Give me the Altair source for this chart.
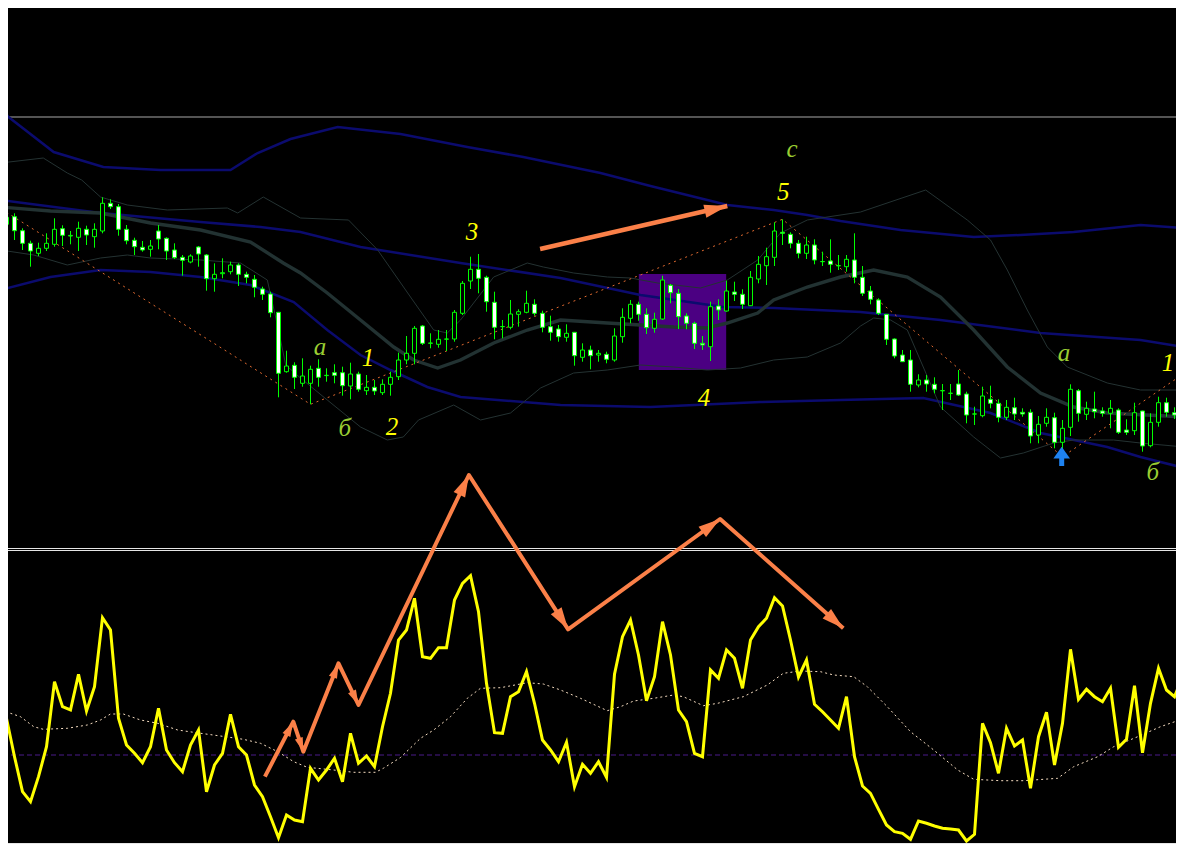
import math
import numpy as np
import pandas as pd
import altair as alt

W, H = 1168, 836

# ---------------- price candles (index k = bar number) ----------------
OPEN = [375.7, 383.3, 369.3, 356.7, 346.7, 351.7, 355.7, 371.3, 364.0, 362.7,
        370.7, 363.3, 369.0, 396.7, 393.3, 370.7, 359.7, 352.7, 350.7, 369.0,
        361.7, 350.0, 342.7, 338.0, 353.0, 345.0, 321.3, 326.3, 328.3, 335.0,
        325.7, 320.7, 311.0, 306.0, 287.7, 228.3, 234.7, 216.7, 216.7, 231.7,
        224.4, 227.3, 227.3, 214.0, 226.0, 209.3, 212.7, 207.3, 215.7, 223.3,
        240.0, 246.7, 274.0, 256.7, 255.7, 260.8, 261.0, 286.7, 319.0, 330.7,
        322.7, 297.7, 273.3, 272.7, 285.7, 287.7, 295.7, 286.7, 273.3, 271.0,
        262.7, 267.7, 242.7, 250.0, 245.0, 245.7, 240.0, 263.3, 281.7, 295.7,
        285.7, 271.7, 281.0, 314.7, 306.7, 284.0, 276.7, 256.7, 253.3, 294.0,
        289.0, 308.0, 305.7, 294.3, 321.0, 334.3, 342.7, 367.7, 365.7, 356.7,
        346.7, 355.0, 338.3, 339.0, 334.2, 333.3, 340.0, 322.7, 309.0, 300.0,
        285.7, 261.0, 245.0, 240.0, 215.0, 220.0, 215.7, 209.2, 206.6, 216.0,
        206.0, 185.9, 184.3, 200.7, 196.7, 182.7, 192.3, 187.7, 187.7, 165.0,
        176.7, 182.3, 157.7, 172.7, 209.3, 185.7, 191.0, 189.0, 186.7, 190.0,
        170.0, 169.3, 189.0, 154.3, 177.7, 197.3, 187.3, 185.0]
HIGH = [387.7, 386.7, 371.7, 359.3, 357.3, 366.7, 381.7, 374.7, 369.0, 378.3,
        374.3, 376.7, 402.7, 400.7, 396.0, 375.0, 362.3, 359.0, 360.0, 375.0,
        362.7, 356.7, 345.0, 345.7, 354.0, 346.0, 336.7, 341.7, 338.3, 336.7,
        328.3, 325.0, 313.3, 308.3, 287.7, 249.3, 237.7, 241.7, 234.3, 240.7,
        231.7, 235.7, 233.3, 237.3, 228.3, 225.0, 220.0, 220.7, 228.3, 247.3,
        264.0, 274.0, 275.0, 266.7, 270.0, 270.0, 290.0, 319.0, 343.3, 346.0,
        324.3, 308.3, 280.0, 300.0, 290.7, 309.3, 300.7, 289.3, 284.3, 275.0,
        275.7, 267.7, 256.7, 254.3, 250.0, 248.3, 271.7, 291.7, 300.0, 298.3,
        291.7, 287.3, 324.3, 316.0, 311.0, 286.7, 278.3, 264.0, 298.3, 300.7,
        319.3, 318.3, 310.7, 329.0, 344.0, 352.3, 377.7, 380.7, 367.7, 360.0,
        363.3, 360.7, 348.3, 360.7, 345.0, 345.0, 366.7, 334.0, 314.0, 301.7,
        286.0, 261.7, 250.0, 250.0, 225.7, 225.0, 222.7, 216.0, 216.0, 230.0,
        208.3, 193.3, 213.3, 214.3, 200.7, 200.0, 202.3, 191.7, 190.7, 184.0,
        191.7, 187.3, 180.0, 215.7, 211.0, 198.3, 208.3, 192.7, 200.0, 191.7,
        180.7, 197.3, 189.3, 186.7, 203.3, 202.3, 192.7, 197.0]
LOW = [371.7, 360.0, 350.0, 333.3, 344.0, 349.0, 353.3, 354.0, 355.7, 349.0,
       355.0, 352.3, 366.7, 391.0, 364.3, 355.7, 345.0, 348.3, 343.3, 350.7,
       340.0, 341.0, 324.3, 336.7, 333.3, 309.3, 308.3, 321.7, 325.7, 314.0,
       316.7, 302.7, 300.0, 282.7, 202.7, 227.3, 211.0, 213.3, 195.7, 213.3,
       218.3, 216.7, 204.3, 200.7, 208.3, 205.0, 205.0, 205.0, 204.3, 220.0,
       235.7, 235.7, 255.0, 251.7, 252.3, 249.0, 258.3, 285.0, 311.0, 306.7,
       288.3, 260.7, 261.7, 270.7, 273.3, 286.7, 284.3, 267.7, 259.3, 258.3,
       258.3, 234.3, 238.3, 230.7, 238.3, 236.7, 238.3, 257.3, 276.7, 279.3,
       266.0, 267.3, 280.0, 296.7, 271.0, 270.7, 251.0, 250.0, 239.0, 280.0,
       288.3, 299.0, 291.0, 294.0, 316.7, 315.0, 334.0, 355.0, 351.7, 341.7,
       341.0, 335.7, 334.0, 327.3, 330.0, 328.3, 316.7, 304.0, 295.7, 285.0,
       255.0, 241.7, 238.3, 208.3, 212.7, 208.3, 206.7, 190.0, 200.0, 204.0,
       176.7, 175.0, 182.7, 191.7, 177.7, 180.0, 180.0, 183.3, 156.7, 156.7,
       173.3, 151.7, 143.3, 164.0, 178.3, 180.0, 181.7, 183.3, 171.7, 166.0,
       165.0, 165.0, 148.3, 152.7, 173.3, 183.3, 181.0, 182.0]
CLOSE = [382.7, 369.3, 356.7, 349.0, 351.7, 356.7, 370.7, 364.7, 364.6, 371.7,
         365.0, 370.7, 396.7, 393.3, 370.7, 359.3, 353.3, 350.0, 354.0, 361.0,
         349.0, 342.3, 339.7, 344.0, 346.0, 321.3, 325.7, 327.3, 335.0, 325.7,
         322.7, 312.7, 305.7, 287.3, 226.7, 234.0, 222.7, 224.0, 230.7, 222.7,
         224.7, 224.7, 214.3, 226.0, 210.7, 212.7, 209.0, 215.7, 222.7, 240.0,
         246.7, 271.7, 256.7, 257.0, 260.7, 261.0, 287.7, 316.7, 330.7, 321.7,
         298.3, 272.7, 273.5, 286.0, 288.3, 296.7, 286.7, 272.7, 267.7, 263.3,
         266.7, 244.3, 250.0, 244.3, 246.7, 240.7, 264.0, 282.7, 295.7, 285.7,
         272.3, 280.7, 320.0, 307.3, 283.3, 276.7, 256.7, 255.0, 293.3, 290.0,
         309.0, 305.7, 295.7, 322.7, 335.7, 343.3, 369.0, 366.7, 356.7, 346.7,
         355.0, 340.0, 338.5, 335.7, 334.4, 340.7, 322.7, 306.7, 300.7, 286.7,
         260.7, 244.0, 238.3, 215.7, 220.0, 216.0, 210.7, 209.4, 206.8, 205.0,
         185.0, 186.1, 204.0, 196.7, 182.7, 192.7, 186.0, 186.0, 164.0, 175.7,
         182.7, 157.7, 171.7, 210.7, 186.7, 191.7, 188.3, 186.7, 191.7, 167.7,
         167.7, 187.3, 154.0, 177.7, 197.3, 187.7, 185.0, 193.3]

# ---------------- price-panel indicator lines (knots: bar index, price) ----------------
ENV_UP_K = [-0.75, 0.25, 5.9, 12.1, 19.25, 28.0, 31.4, 35.5, 41.4, 49.25, 57.6, 64.6, 74.25,
            80.5, 87.6, 90.1, 95.9, 100.1, 104.25, 111.75, 120.9, 126.75, 133.4, 141.75, 147.25]
ENV_UP_P = [492, 483, 448, 433, 430, 430, 447, 461, 473, 466, 453, 443, 427,
            414, 400, 395, 390, 385, 379, 370, 363, 365, 368, 375, 372]
ENV_MID_K = [-0.75, 11.75, 24.25, 31.75, 36.75, 44.25, 56.75, 69.25, 79.25, 89.6, 95.9,
             106.75, 116.75, 129.25, 141.75, 147.25]
ENV_MID_P = [400, 387, 378, 373, 368, 353, 337, 322, 305, 293, 292, 288, 280, 267, 260, 253]
ENV_LO_K = [-0.75, 5.5, 11.75, 18, 24.25, 30.5, 35.9, 40.1, 44.25, 48, 52.6, 56.75, 69.25,
            80.5, 94.25, 104.25, 114.6, 123, 129.25, 137.6, 141.75, 147.25]
ENV_LO_P = [310, 323, 330, 328, 323, 315, 298, 270, 245, 230, 213, 203, 195,
            193, 198, 200, 202, 187, 167, 153, 143, 132]
MA_K = [-0.75, 5.5, 11.75, 18, 24.25, 30.5, 34.6, 36.75, 40.1, 44.25, 48.4, 50.9, 53.9, 56.75,
        60.9, 65.1, 69.25, 75.1, 79.25, 83.4, 87.6, 90.1, 93.9, 95.9, 100.1, 104.25, 108.4,
        112.6, 116.75, 120.9, 125.1, 129.25, 133.4, 137.6, 147.25]
MA_P = [393, 389, 387, 377, 370, 358, 337, 327, 307, 280, 253, 240, 232, 240,
        257, 270, 280, 277, 275, 273, 272, 277, 287, 300, 313, 323, 330,
        323, 303, 270, 233, 207, 193, 187, 183]
BB_UP_K = [-0.75, 4.6, 7.6, 9.4, 11.75, 15.1, 20.1, 27.6, 28.9, 32.1, 36.75, 42.75, 46.4, 50.5,
           53.4, 55.1, 56.75, 60.9, 65.1, 67.1, 70.9, 75.1, 78, 81.4, 86.75, 90.1, 93.9, 96.75,
           100.1, 106.75, 114.9, 120.1, 123, 125.1, 127.6, 130.1, 132.6, 137.6, 141.75, 147.25]
BB_UP_P = [437, 442, 427, 420, 403, 395, 390, 392, 387, 403, 382, 380, 350, 303,
           270, 267, 280, 323, 337, 333, 327, 323, 322, 317, 312, 320, 340, 367,
           380, 388, 410, 380, 360, 330, 290, 253, 233, 217, 210, 210]
BB_LO_K = [-0.75, 3.4, 7.6, 11.75, 15.1, 18, 24.25, 29.25, 32.6, 34, 34.9, 36.75, 40.1, 44.25,
           47.6, 49.6, 51.5, 55.9, 59.25, 63, 66.75, 70.9, 75.1, 79.25, 83.4, 87.6, 91.75,
           95.9, 100.1, 104.25, 106.75, 108.4, 110.5, 112.6, 116.75, 120.9, 124.25, 127.1,
           130.9, 133.4, 138.4, 141.75, 147.25]
BB_LO_P = [350, 345, 335, 342, 345, 342, 340, 337, 320, 270, 235, 222, 200, 173,
           160, 163, 180, 195, 180, 187, 212, 227, 230, 235, 233, 230, 232,
           240, 243, 257, 274, 282, 280, 270, 193, 163, 142, 147,
           157, 160, 160, 157, 153]
ZZ_K = [0, 38, 97, 132, 150]
ZZ_P = [387.7, 195.7, 380.7, 143.3, 242]
LEVEL_P = [483]

BOX_K = [79.04, 89.96]
BOX_P = [326, 230]

# ---------------- oscillator panel ----------------
OSC = [36.7, -1.7, -36.7, -46.7, -21.7, 8.3, 73.3, 48.3, 45, 80.7,
       44, 68.3, 137.3, 125, 36.7, 10, 1.7, -7.7, 8.3, 46.7,
       5, -7.7, -16.7, 10, 25, -36.7, -10, 1.7, 40.7, 8.3,
       0, -30, -41.7, -61.7, -82.7, -60, -65, -66.7, -13.3, -25,
       -15, -3.3, -26.7, 21.7, -8.3, -1, -11.7, 28.3, 61.7, 115,
       125, 156.7, 98.3, 96.7, 107.3, 107.3, 155, 171.7, 179.3, 143.3,
       71.7, 22.3, 21.7, 58.3, 63.3, 83.3, 51.7, 15, 5, -6.7,
       12.7, -31.7, -9.3, -18.3, -6.7, -22.3, 80.7, 118.3, 135, 100,
       54.3, 78.3, 133.3, 100, 45, 33.3, 1.7, -1.7, 85, 76.7,
       105, 96.7, 66.7, 115, 128.3, 136.7, 157.3, 149, 115, 78,
       95, 50.7, 43.3, 35, 26.7, 58.3, -1.7, -31, -38.3, -54.3,
       -70, -76.7, -78.3, -84.3, -66, -68.3, -71, -73.3, -74, -75,
       -86, -79.3, 31.7, 12.3, -18.3, 26.7, 9, 15, -33.3, 18.3,
       42.7, -10, 31.7, 105.7, 55.7, 65.7, 58.3, 53.3, 66.7, 7.7,
       15.7, 69.3, 2.3, 51.7, 86.7, 65, 58.3, 78.3]
SIG_K = [-0.75, 0.5, 1.75, 3.4, 4.6, 7.6, 10.1, 11.75, 13, 14.6, 16.75, 18.9, 21.4, 24.25,
         26.75, 29.6, 31.75, 33.9, 35.9, 37.6, 40.9, 43.4, 46.1, 47.1, 49.25, 51.75, 53.4,
         55.5, 57.6, 59.25, 61.75, 65.1, 67.1, 69.25, 71.75, 75.1, 76.75, 78.4, 80.9, 83.4,
         84.6, 87.1, 88.9, 92.1, 95.1, 97.1, 99.25, 101.75, 103.4, 105.9, 107.6, 110.1, 113,
         115.9, 118.9, 120.9, 124.25, 127.1, 131.4, 133.4, 136.4, 138.4, 141.4, 144.25, 147.25]
SIG_V = [43.3, 41.7, 38.3, 28.3, 25.7, 26.7, 30, 35, 41, 41, 35, 31.7, 25, 21.7,
         19, 15.7, 11.7, 3.3, -6.7, -12.3, -15, -17.3, -17.3, -13.3, -2.5, 16.7, 25,
         38.3, 56.7, 66.7, 67.3, 72.3, 71, 65, 56.7, 44.3, 48.3, 54, 56.7, 60,
         58.3, 49.3, 51.7, 58.3, 70, 81.7, 84, 83.3, 80, 78.3, 68.3, 48.3, 23.3,
         5, -15, -24.3, -25.7, -25.7, -23.3, -11.7, -1.7, 8.3, 18.3, 28.3, 36.7]
OSC_LEVEL = [0]

# ---------------- annotations ----------------
WAVE_K = [32.3, 35.85, 37.1, 41.5, 44.0, 57.8, 70.2, 89.2, 104.6]
WAVE_P = [-176.7, -121.7, -151.7, -63.3, -105, 125, -29.3, 81, -28.3]
WAVE_HEAD = [0, 225, 200, 225, 225, 484, 484, 484, 484]
TREND_K = [66.7, 90.1]
TREND_P = [351, 394]
LBL_T = ["a", "б", "1", "2", "3", "4", "5", "c", "a", "1", "б"]
LBL_K = [39.2, 42.3, 45.2, 48.2, 58.2, 87.2, 97.1, 98.2, 132.2, 145.2, 143.3]
LBL_P = [253, 172, 242, 173, 368, 202, 408, 451, 247, 237, 128]
BUY_K = [131.9]
BUY_TIP_P = [153.3]
BUY_SHAFT_P = [142, 134]

# ---------------- scales ----------------
XD = [0.1875, (W + 1.5) / 8]
PD = [592 - H, 592]
OD = [747 - H, 747]
XS = alt.Scale(domain=XD, nice=False, zero=False)
PS = alt.Scale(domain=PD, nice=False, zero=False)
OS = alt.Scale(domain=OD, nice=False, zero=False)
PX_K = W / (XD[1] - XD[0])
PX_P = H / (PD[1] - PD[0])


def X(f):
    return alt.X(f, scale=XS, axis=None)


def YP(f):
    return alt.Y(f, scale=PS, axis=None)


def YO(f):
    return alt.Y(f, scale=OS, axis=None)


def line(ks, vs, color, width, dash=None, yf=YP):
    d = pd.DataFrame({"k": ks, "v": vs})
    kw = dict(color=color, strokeWidth=width, clip=True)
    if dash:
        kw["strokeDash"] = dash
    return alt.Chart(d).mark_line(**kw).encode(x=X("k:Q"), y=yf("v:Q"))


layers = []

# purple rectangle
box = pd.DataFrame({"k1": [BOX_K[0]], "k2": [BOX_K[1]], "p1": [BOX_P[0]], "p2": [BOX_P[1]]})
layers.append(alt.Chart(box).mark_rect(color="#4b0082").encode(
    x=X("k1:Q"), x2="k2:Q", y=YP("p1:Q"), y2="p2:Q"))

# horizontal level line
layers.append(alt.Chart(pd.DataFrame({"p": LEVEL_P})).mark_rule(color="#a8a8a8", strokeWidth=1).encode(
    y=YP("p:Q")))

# envelopes, bands, moving average, zigzag
layers.append(line(ENV_UP_K, ENV_UP_P, "#0b0b6e", 2.5))
layers.append(line(ENV_MID_K, ENV_MID_P, "#0b0b6e", 2.5))
layers.append(line(ENV_LO_K, ENV_LO_P, "#0b0b6e", 2.5))
layers.append(line(BB_UP_K, BB_UP_P, "#243232", 1))
layers.append(line(BB_LO_K, BB_LO_P, "#243232", 1))
layers.append(line(MA_K, MA_P, "#223232", 3.4))
layers.append(line(ZZ_K, ZZ_P, "#e06a30", 1, dash=[2, 4]))

# candles
cd = pd.DataFrame({"k": np.arange(len(OPEN)), "open": OPEN, "high": HIGH, "low": LOW, "close": CLOSE})
cd["bx1"] = cd["k"] - 0.25
cd["bx2"] = cd["k"] + 0.25
cd["fillc"] = np.where(cd["close"] >= cd["open"], "#000000", "#ffffff")
layers.append(alt.Chart(cd).mark_rule(color="#00ff00", strokeWidth=1, clip=True).encode(
    x=X("k:Q"), y=YP("low:Q"), y2="high:Q"))
layers.append(alt.Chart(cd).mark_rect(stroke="#00ff00", strokeWidth=1, clip=True).encode(
    x=X("bx1:Q"), x2="bx2:Q", y=YP("open:Q"), y2="close:Q",
    fill=alt.Fill("fillc:N", scale=None)))

# oscillator panel
layers.append(alt.Chart(pd.DataFrame({"v": OSC_LEVEL})).mark_rule(
    color="#4b1a8a", strokeWidth=1, strokeDash=[5, 3]).encode(y=YO("v:Q")))
layers.append(line(SIG_K, SIG_V, "#f5dcc0", 1, dash=[2, 3], yf=YO))
layers.append(line(list(range(len(OSC))), OSC, "#ffff00", 3, yf=YO))

# frame: panel separator and bottom time-axis line
one = pd.DataFrame({"z": [0]})
for yy in (540.5, 542.5, H - 0.5):
    layers.append(alt.Chart(one).mark_rule(color="#e6e6e6", strokeWidth=1).encode(
        x=alt.value(0), x2=alt.value(W), y=alt.value(yy)))

# orange hand-drawn arrows
HEAD = "M0,0L-0.58,2L0.58,2Z"


def heads(ks, ps, sizes):
    rows = []
    for i in range(1, len(ks)):
        if sizes[i] <= 0:
            continue
        dx = (ks[i] - ks[i - 1]) * PX_K
        dy = -(ps[i] - ps[i - 1]) * PX_P
        ang = (math.degrees(math.atan2(dx, -dy)) + 360) % 360
        rows.append({"k": ks[i], "p": ps[i], "ang": ang, "sz": sizes[i]})
    return pd.DataFrame(rows)


CORAL = "#fb8048"
wave = pd.DataFrame({"k": WAVE_K, "p": WAVE_P, "i": range(len(WAVE_K))})
layers.append(alt.Chart(wave).mark_line(color=CORAL, strokeWidth=4, strokeJoin="round", clip=True).encode(
    x=X("k:Q"), y=YP("p:Q"), order="i:Q"))
layers.append(alt.Chart(heads(WAVE_K, WAVE_P, WAVE_HEAD)).mark_point(
    shape=HEAD, filled=True, opacity=1, color=CORAL, strokeWidth=0).encode(
    x=X("k:Q"), y=YP("p:Q"), angle=alt.Angle("ang:Q", scale=None), size=alt.Size("sz:Q", scale=None)))
trend = pd.DataFrame({"k": TREND_K, "p": TREND_P})
layers.append(alt.Chart(trend).mark_line(color=CORAL, strokeWidth=4.5).encode(x=X("k:Q"), y=YP("p:Q")))
layers.append(alt.Chart(heads(TREND_K, TREND_P, [0, 529])).mark_point(
    shape=HEAD, filled=True, opacity=1, color=CORAL, strokeWidth=0).encode(
    x=X("k:Q"), y=YP("p:Q"), angle=alt.Angle("ang:Q", scale=None), size=alt.Size("sz:Q", scale=None)))

# wave labels
lbl = pd.DataFrame({"t": LBL_T, "k": LBL_K, "p": LBL_P})
lbl["c"] = np.where(lbl["t"].str.isdigit(), "#ffff00", "#9acd32")
layers.append(alt.Chart(lbl).mark_text(font="Liberation Serif", fontStyle="italic", fontSize=25,
                                       align="center", baseline="middle").encode(
    x=X("k:Q"), y=YP("p:Q"), text="t:N", color=alt.Color("c:N", scale=None)))

# blue buy arrow
BLUE = "#1e82f0"
layers.append(alt.Chart(pd.DataFrame({"k": BUY_K, "p1": [BUY_SHAFT_P[0]], "p2": [BUY_SHAFT_P[1]]})).mark_rule(
    color=BLUE, strokeWidth=5).encode(x=X("k:Q"), y=YP("p1:Q"), y2="p2:Q"))
layers.append(alt.Chart(pd.DataFrame({"k": BUY_K, "p": BUY_TIP_P})).mark_point(
    shape="M0,0L-0.71,1L0.71,1Z", size=548, filled=True, opacity=1, color=BLUE, strokeWidth=0).encode(
    x=X("k:Q"), y=YP("p:Q")))

chart = alt.layer(*layers).resolve_scale(y="independent").properties(
    width=W, height=H, padding=0, autosize=alt.AutoSizeParams(type="none")
).configure(background="#000000").configure_view(strokeWidth=0)

chart.save("out.html", embed_options={"renderer": "svg", "actions": False})
